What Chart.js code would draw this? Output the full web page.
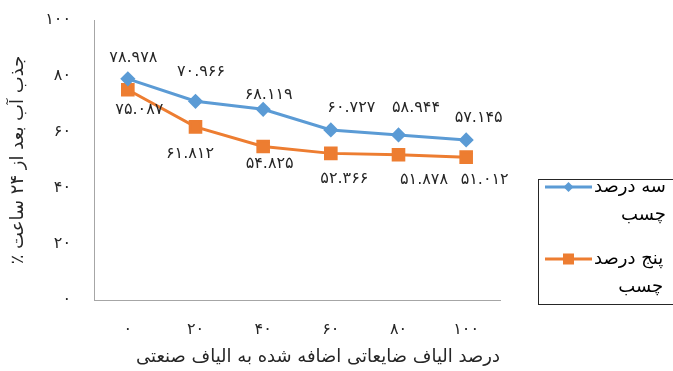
<!DOCTYPE html>
<html lang="fa">
<head>
<meta charset="utf-8">
<script src="https://cdn.jsdelivr.net/npm/chart.js@4/dist/chart.umd.min.js"></script>
<style>
  html, body { margin: 0; padding: 0; background: #ffffff; }
  #wrap { width: 673px; height: 371px; position: relative; }
</style>
</head>
<body>
<div id="wrap"><canvas id="c" width="673" height="371"></canvas></div>
<script>
// Waste fibre added to industrial fibre (%)
const categories = [0, 20, 40, 60, 80, 100];
// Water absorption after 24 h (%) for each glue content
const glue3 = [78.978, 70.966, 68.119, 60.727, 58.944, 57.145];
const glue5 = [75.087, 61.812, 54.825, 52.366, 51.878, 51.012];
const yTickValues = [0, 20, 40, 60, 80, 100];

const seriesNames = ['سه درصد چسب', 'پنج درصد چسب'];
const xTitle = 'درصد الیاف ضایعاتی اضافه شده به الیاف صنعتی';
const yTitle = 'جذب آب بعد از ۲۴ ساعت ٪\u200F';

const FONT = '"DejaVu Sans", sans-serif';
const TEXT = '#262626';

// Western digits -> Persian digits
const fa = s => String(s).replace(/\d/g, d => '۰۱۲۳۴۵۶۷۸۹'[d]);

// Spread the digits of tick labels a little
const baseDrawLabels = Chart.Scale.prototype.drawLabels;
Chart.Scale.prototype.drawLabels = function (area) {
  this.ctx.save();
  this.ctx.letterSpacing = '3px';
  baseDrawLabels.call(this, area);
  this.ctx.restore();
};

// Nudges for the value labels, relative to each point (px)
const labelNudge = [
  { dx: [4, 4, 4, 19, 16, 11], dy: [-21, -29, -14, -22, -27, -22] },
  { dx: [10, -7, 5, 12, 24, 17], dy: [20, 27, 17, 25, 25, 23] }
];

const valueLabels = {
  id: 'valueLabels',
  afterDatasetsDraw(chart) {
    const ctx = chart.ctx;
    ctx.save();
    ctx.font = '16px ' + FONT;
    ctx.letterSpacing = '3px';
    ctx.fillStyle = TEXT;
    ctx.textAlign = 'center';
    ctx.textBaseline = 'middle';
    chart.data.datasets.forEach((ds, di) => {
      const meta = chart.getDatasetMeta(di);
      meta.data.forEach((pt, i) => {
        const n = labelNudge[di];
        ctx.fillText(fa(ds.data[i].toFixed(3)), pt.x + n.dx[i] + 1.5, pt.y + n.dy[i]);
      });
    });
    ctx.restore();
  }
};

// Boxed legend on the right, with wrapped series names
const boxLegend = {
  id: 'boxLegend',
  afterDraw(chart) {
    const ctx = chart.ctx;
    const box = { x: 538.5, y: 179.5, w: 200, h: 125 };
    ctx.save();
    ctx.strokeStyle = '#262626';
    ctx.lineWidth = 1;
    ctx.strokeRect(box.x, box.y, box.w, box.h);
    ctx.font = '18px ' + FONT;
    ctx.textBaseline = 'middle';
    const rows = [187, 259];
    chart.data.datasets.forEach((ds, di) => {
      const y = rows[di];
      ctx.strokeStyle = ds.borderColor;
      ctx.lineWidth = 3;
      ctx.beginPath();
      ctx.moveTo(545, y);
      ctx.lineTo(592, y);
      ctx.stroke();
      ctx.fillStyle = ds.pointBackgroundColor;
      if (ds.pointStyle === 'rectRot') {
        ctx.beginPath();
        ctx.moveTo(568.5, y - 5);
        ctx.lineTo(573.5, y);
        ctx.lineTo(568.5, y + 5);
        ctx.lineTo(563.5, y);
        ctx.closePath();
        ctx.fill();
      } else {
        ctx.fillRect(563, y - 5.5, 11, 11);
      }
      const words = ds.label.split(' ');
      const line1 = words.slice(0, -1).join(' ');
      const line2 = words[words.length - 1];
      const w1 = ctx.measureText(line1).width;
      const right = 594 + w1;
      ctx.fillStyle = '#000000';
      ctx.textAlign = 'right';
      ctx.fillText(line1, right, y);
      ctx.fillText(line2, right, y + 28);
    });
    ctx.restore();
  }
};

new Chart(document.getElementById('c'), {
  type: 'line',
  data: {
    labels: categories.map(fa),
    datasets: [
      {
        label: seriesNames[0],
        data: glue3,
        borderColor: '#5B9BD5',
        backgroundColor: '#5B9BD5',
        pointBackgroundColor: '#5B9BD5',
        pointBorderColor: '#5B9BD5',
        pointStyle: 'rectRot',
        pointRadius: 5.5,
        borderWidth: 3,
        tension: 0
      },
      {
        label: seriesNames[1],
        data: glue5,
        borderColor: '#ED7D31',
        backgroundColor: '#ED7D31',
        pointBackgroundColor: '#ED7D31',
        pointBorderColor: '#ED7D31',
        pointStyle: 'rect',
        pointRadius: 7.5,
        borderWidth: 3,
        tension: 0
      }
    ]
  },
  options: {
    responsive: false,
    animation: false,
    devicePixelRatio: 1,
    layout: { padding: { top: 20, right: 173, bottom: 0, left: 0 } },
    plugins: {
      legend: { display: false },
      tooltip: { enabled: false }
    },
    scales: {
      x: {
        type: 'category',
        offset: true,
        grid: { display: false, drawTicks: true, tickLength: 20 },
        border: { display: true, color: '#A6A6A6', width: 1 },
        ticks: { color: TEXT, font: { family: FONT, size: 16 }, padding: 0, maxRotation: 0 },
        title: {
          display: true, text: xTitle, color: TEXT, align: 'end',
          font: { family: FONT, size: 18 }, padding: { top: 0, bottom: 3 }
        },
        afterFit(scale) { scale.height = 71; }
      },
      y: {
        min: 0, max: 100,
        afterBuildTicks(scale) { scale.ticks = yTickValues.map(v => ({ value: v })); },
        grid: { display: false, drawTicks: true, tickLength: 23 },
        border: { display: true, color: '#A6A6A6', width: 1 },
        ticks: {
          color: TEXT, font: { family: FONT, size: 16 }, padding: 0,
          callback: v => fa(v)
        },
        title: {
          display: true, text: yTitle, color: TEXT,
          font: { family: FONT, size: 18 }, padding: { top: 8, bottom: 0 }
        },
        afterFit(scale) { scale.width = 94; }
      }
    }
  },
  plugins: [valueLabels, boxLegend]
});
</script>
</body>
</html>
